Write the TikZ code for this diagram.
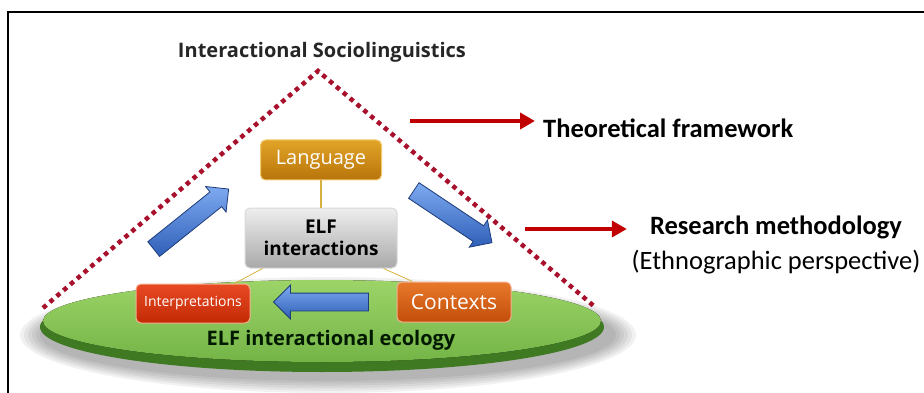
\documentclass[tikz,border=0pt]{standalone}
\usepackage{fontspec}
\setmainfont{Carlito}
\newfontfamily\diagfont{Open Sans}
\usetikzlibrary{shapes.arrows,arrows.meta,positioning}
\definecolor{dotred}{HTML}{A8102C}
\definecolor{frameRed}{HTML}{C00000}
\definecolor{langTop}{HTML}{E2A428}
\definecolor{langBot}{HTML}{B8740A}
\definecolor{langRim}{HTML}{F2CA70}
\definecolor{elfTop}{HTML}{EEEEEE}
\definecolor{elfBot}{HTML}{A9A9A9}
\definecolor{interpTop}{HTML}{E84A24}
\definecolor{interpBot}{HTML}{C22A04}
\definecolor{ctxTop}{HTML}{E8782A}
\definecolor{ctxBot}{HTML}{C24E0A}
\definecolor{boxRim}{HTML}{F5B090}
\definecolor{blueTop}{HTML}{7EAAF0}
\definecolor{blueBot}{HTML}{2F5FB8}
\definecolor{blueRim}{HTML}{1E3C7A}
\definecolor{greenTop}{HTML}{9CD468}
\definecolor{greenBot}{HTML}{74B446}
\definecolor{greenRim}{HTML}{3F7A22}
\definecolor{linkGold}{HTML}{D8B040}

\begin{document}
\begin{tikzpicture}[x=1pt,y=-1pt,
  labelbox/.style={rounded corners=5pt,line width=1pt,inner sep=0pt,align=center},
  langbox/.style={labelbox,draw=langRim,top color=langTop,bottom color=langBot,
    minimum width=121pt,minimum height=40pt,text=white,font=\diagfont\fontsize{20}{22}\selectfont},
  elfbox/.style={labelbox,draw=white!85!black,top color=elfTop,bottom color=elfBot,
    minimum width=152pt,minimum height=60pt,font=\diagfont\bfseries\fontsize{19}{22}\selectfont},
  interpbox/.style={labelbox,draw=boxRim,top color=interpTop,bottom color=interpBot,
    minimum width=114pt,minimum height=39pt,text=white,font=\diagfont\fontsize{14}{16}\selectfont},
  ctxbox/.style={labelbox,draw=boxRim,top color=ctxTop,bottom color=ctxBot,
    minimum width=114pt,minimum height=40pt,text=white,font=\diagfont\fontsize{21}{24}\selectfont},
  bluearrow/.style={single arrow,draw=blueRim,line width=0.8pt,top color=blueTop,bottom color=blueBot,
    inner xsep=0pt,inner ysep=9pt,single arrow head indent=0pt},
  redarrow/.style={frameRed,line width=4pt,-{Triangle[length=15pt,width=16pt]}},
  goldlink/.style={linkGold,line width=1.2pt},
  thinlink/.style={linkGold,line width=0.8pt}]
\useasboundingbox (0,0) rectangle (924,393);
% frame
\draw[line width=2.5pt] (8,393) -- (8,12) -- (924,12);

% title and dotted triangle
\node[font=\diagfont\bfseries\fontsize{20}{22}\selectfont,text=black!85] (title) at (322,52) {Interactional Sociolinguistics};
\coordinate (apex) at (318,71);
\coordinate (leftFoot) at (43,308);
\coordinate (rightFoot) at (595,307);
\draw[dotred,line width=4.5pt,dash pattern=on 4.5pt off 4.5pt] (leftFoot) -- (apex) -- (rightFoot);

% ecology disc with soft shadow
\foreach \r in {0,4,...,20}
  \fill[black,opacity=0.055] (328,335) ellipse ({288+\r} and {46+\r*0.6});
\fill[greenRim] (322,327) ellipse (282 and 45);
\fill[top color=greenTop,bottom color=greenBot] (322,321) ellipse (279 and 41);
\node[font=\diagfont\bfseries\fontsize{20}{22}\selectfont,text=black!90!green] (ecology) at (331,340) {ELF interactional ecology};

% boxes
\node[langbox] (lang) at (321,160) {Language};
\node[elfbox] (elf) at (321,238) {ELF\\interactions};
\node[interpbox] (interp) at (193,303.5) {Interpretations};
\node[ctxbox] (ctx) at (454,302) {Contexts};
\draw[goldlink] (lang.south) -- (elf.north);
\draw[thinlink] ([xshift=18pt]elf.south west) -- ([xshift=-16pt]interp.north east);
\draw[thinlink] ([xshift=-14pt]elf.south east) -- ([xshift=16pt]ctx.north west);

% blue arrows
\node[bluearrow,minimum height=96pt,rotate=38.7,single arrow head extend=7pt] (upArrow) at (187.5,222) {};
\node[bluearrow,minimum height=94pt,rotate=-33.7,single arrow head extend=7pt] (downArrow) at (449,214) {};
\node[bluearrow,minimum height=95pt,rotate=180,single arrow head extend=8pt,inner ysep=8.5pt] (backArrow) at (325.5,302) {};

% right-hand labels
\node[anchor=west,font=\bfseries\fontsize{26.5}{30}\selectfont,inner sep=0pt] (theory) at (543,128) {Theoretical framework};
\coordinate (theoryTail) at (410,121);
\draw[redarrow] (theoryTail) -- ([xshift=-8pt,yshift=7pt]theory.west);
\node[font=\bfseries\fontsize{26.5}{30}\selectfont,inner sep=0pt] (method) at (776,227) {Research methodology};
\node[below=11pt of method,font=\fontsize{26.5}{30}\selectfont,inner sep=0pt] (ethno) {(Ethnographic perspective)};
\coordinate (methodTail) at (525,229);
\draw[redarrow] (methodTail) -- ([xshift=-23pt,yshift=-2pt]method.west);
\end{tikzpicture}
\end{document}
